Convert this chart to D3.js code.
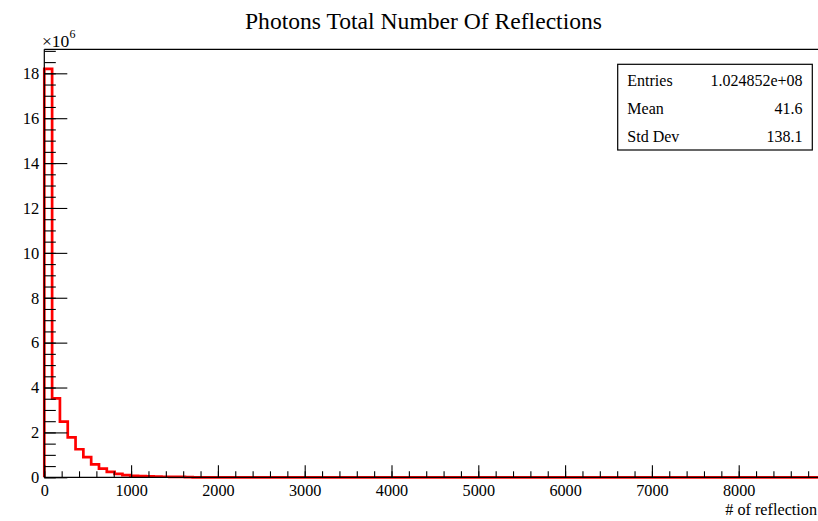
<!DOCTYPE html>
<html>
<head>
<meta charset="utf-8">
<script src="https://cdn.jsdelivr.net/npm/d3@7"></script>
<style>
  html, body { margin: 0; padding: 0; background: #fff; }
  svg { display: block; font-family: "Liberation Serif", "Times New Roman", serif; }
</style>
</head>
<body>
<svg id="chart" width="818" height="521"></svg>
<script>
// Histogram of total reflection counts per photon (bin width 90, range 0–9000)
const binWidth = 90;
const xMax = 9000;
const counts = [
  18200000, 3520000, 2480000, 1780000, 1250000, 900000, 580000, 390000,
  240000, 150000, 100000, 70000, 50000, 40000, 30000, 25000, 20000, 15000, 10000
];
const xTickValues = [0, 1000, 2000, 3000, 4000, 5000, 6000, 7000, 8000];
const yTickValues = [0, 2e6, 4e6, 6e6, 8e6, 10e6, 12e6, 14e6, 16e6, 18e6];
const statLabels = ["Entries", "Mean", "Std Dev"];
const statValues = ["1.024852e+08", "41.6", "138.1"];

const svg = d3.select("#chart");
const W = 818, H = 521;
const frameLeft = 44.3, frameTop = 49.3, frameBottom = 477.3;
const pxPer1000 = 86.8;

const x = d3.scaleLinear().domain([0, xMax]).range([frameLeft, frameLeft + pxPer1000 * xMax / 1000]);
const y = d3.scaleLinear().domain([0, 19.07e6]).range([frameBottom, frameTop]);

// Title
svg.append("text")
  .attr("x", 423.5).attr("y", 28.5)
  .attr("text-anchor", "middle")
  .attr("font-size", 23.6)
  .text("Photons Total Number Of Reflections");

// Histogram step line
const pts = [[0, 0]];
counts.forEach((c, i) => {
  pts.push([i * binWidth, c]);
  pts.push([(i + 1) * binWidth, c]);
});
pts.push([counts.length * binWidth, 0]);
pts.push([xMax, 0]);
svg.append("path")
  .attr("d", d3.line().x(d => x(d[0])).y(d => y(d[1]))(pts))
  .attr("fill", "none")
  .attr("stroke", "#ff0000")
  .attr("stroke-width", 2.7)
  .attr("stroke-linejoin", "miter");

// Frame: top edge
svg.append("line")
  .attr("x1", frameLeft).attr("x2", W + 10)
  .attr("y1", frameTop).attr("y2", frameTop)
  .attr("stroke", "#000").attr("stroke-width", 1.2);

// Y axis (ticks pointing inwards)
const yMinor = d3.range(0, 19.01e6, 0.5e6);
svg.append("g")
  .attr("transform", `translate(${frameLeft},0)`)
  .call(d3.axisLeft(y).tickValues(yMinor).tickSize(-11.5).tickSizeOuter(0).tickFormat(""))
  .call(g => g.select(".domain").remove())
  .call(g => g.selectAll("line").attr("stroke", "#000").attr("stroke-width", 1.1));
const yAxis = svg.append("g")
  .attr("transform", `translate(${frameLeft},0)`)
  .call(d3.axisLeft(y).tickValues(yTickValues).tickSize(-23).tickSizeOuter(0).tickPadding(5)
    .tickFormat(d => d3.format("d")(d / 1e6)));
yAxis.select(".domain").remove();
yAxis.selectAll("line").attr("stroke", "#000").attr("stroke-width", 1.1);
yAxis.selectAll("text").attr("font-size", 16.5).attr("fill", "#000")
  .attr("font-family", "Liberation Serif, serif");
svg.append("line")
  .attr("x1", frameLeft).attr("x2", frameLeft).attr("y1", frameTop).attr("y2", frameBottom)
  .attr("stroke", "#000").attr("stroke-width", 1.2);

// X axis (ticks pointing inwards)
const xMinor = d3.range(0, xMax + 1, 200);
svg.append("g")
  .attr("transform", `translate(0,${frameBottom})`)
  .call(d3.axisBottom(x).tickValues(xMinor).tickSize(-6).tickSizeOuter(0).tickFormat(""))
  .call(g => g.select(".domain").remove())
  .call(g => g.selectAll("line").attr("stroke", "#000").attr("stroke-width", 1.1));
const xAxis = svg.append("g")
  .attr("transform", `translate(0,${frameBottom})`)
  .call(d3.axisBottom(x).tickValues(xTickValues).tickSize(-12).tickSizeOuter(0).tickPadding(7.5)
    .tickFormat(d3.format("d")));
xAxis.select(".domain").remove();
xAxis.selectAll("line").attr("stroke", "#000").attr("stroke-width", 1.1);
xAxis.selectAll("text").attr("font-size", 16.2).attr("fill", "#000")
  .attr("font-family", "Liberation Serif, serif");
svg.append("line")
  .attr("x1", frameLeft).attr("x2", W + 10).attr("y1", frameBottom).attr("y2", frameBottom)
  .attr("stroke", "#000").attr("stroke-width", 1.2);

// Axis titles
svg.append("text")
  .attr("x", 817).attr("y", 515)
  .attr("text-anchor", "end")
  .attr("font-size", 16.2)
  .text("# of reflection");

const mult = svg.append("text").attr("x", 42).attr("y", 46.5).attr("font-size", 17.5);
mult.append("tspan").text("\u00d710");
mult.append("tspan").attr("dy", -9).attr("font-size", 12).text("6");

// Statistics box
const box = { x: 617.7, y: 64.3, w: 194.6, h: 85.7 };
svg.append("rect")
  .attr("x", box.x).attr("y", box.y).attr("width", box.w).attr("height", box.h)
  .attr("fill", "#fff").attr("stroke", "#000").attr("stroke-width", 1.2);
statLabels.forEach((lab, i) => {
  const yy = 85.5 + i * 28;
  svg.append("text").attr("x", 627.3).attr("y", yy).attr("font-size", 16).text(lab);
  svg.append("text").attr("x", 802.5).attr("y", yy).attr("font-size", 16)
    .attr("text-anchor", "end").text(statValues[i]);
});
</script>
</body>
</html>
